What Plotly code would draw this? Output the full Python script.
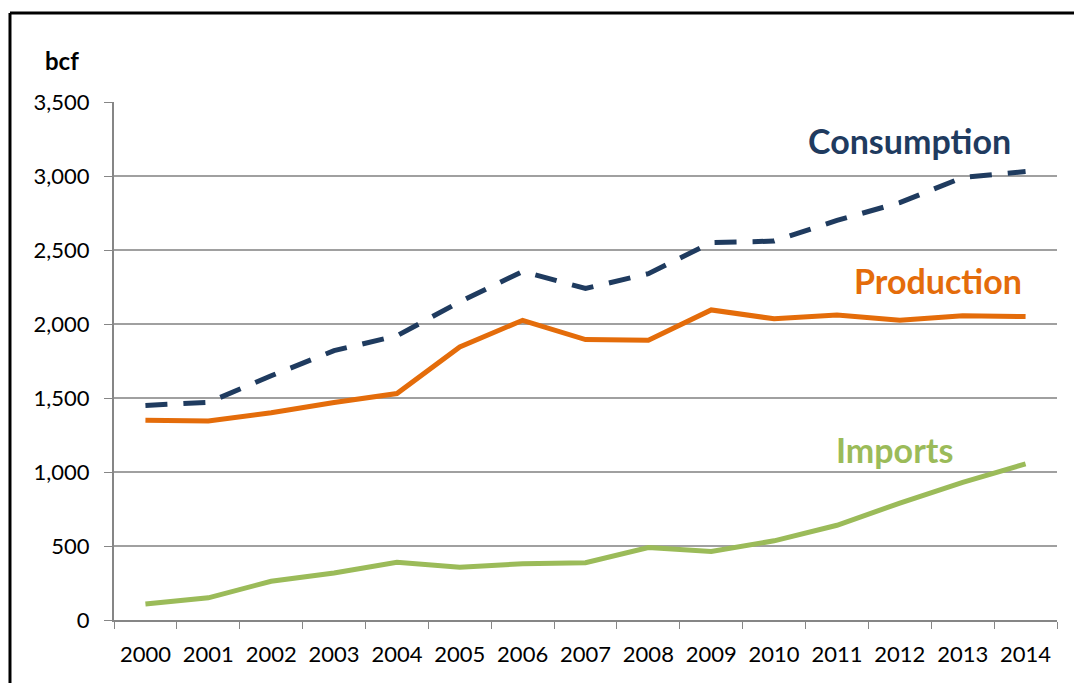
import plotly.graph_objects as go

years = [str(y) for y in range(2000, 2015)]
consumption = [1450, 1470, 1650, 1820, 1920, 2150, 2355, 2240, 2340, 2550, 2560, 2700, 2820, 2990, 3030]
production = [1350, 1345, 1400, 1470, 1530, 1845, 2025, 1895, 1890, 2095, 2035, 2060, 2025, 2055, 2050]
imports = [108, 150, 262, 318, 390, 357, 380, 387, 490, 463, 535, 640, 790, 930, 1055]

c_cons = "#1F3B5F"
c_prod = "#E46C0A"
c_imp = "#9BBB59"

fig = go.Figure()
fig.add_trace(go.Scatter(x=years, y=imports, mode="lines", line=dict(color=c_imp, width=5), name="Imports"))
fig.add_trace(go.Scatter(x=years, y=production, mode="lines", line=dict(color=c_prod, width=5), name="Production"))
fig.add_trace(go.Scatter(x=years, y=consumption, mode="lines", line=dict(color=c_cons, width=5, dash="22px,16px"), name="Consumption"))

font_fam = "Lato, 'Open Sans', sans-serif"

fig.update_layout(
    width=1074, height=683,
    margin=dict(l=114, r=17, t=102, b=63),
    paper_bgcolor="white", plot_bgcolor="white",
    showlegend=False,
    font=dict(family=font_fam, size=22, color="black"),
    xaxis=dict(
        type="category", tickson="boundaries", ticks="outside", ticklen=7, tickcolor="#868686",
        showline=True, linecolor="#868686", linewidth=2, showgrid=False,
        tickfont=dict(size=22), range=[-0.5, 14.5], ticklabelstandoff=14,
    ),
    yaxis=dict(
        range=[0, 3500], tickvals=[0, 500, 1000, 1500, 2000, 2500, 3000, 3500],
        ticktext=["0", "500", "1,000", "1,500", "2,000", "2,500", "3,000", "3,500"],
        ticks="outside", ticklen=8, tickcolor="#868686",
        showline=True, linecolor="#868686", linewidth=2,
        showgrid=True, gridcolor="#A0A0A0", gridwidth=1.5,
        zeroline=False, tickfont=dict(size=22), ticklabelstandoff=10,
    ),
)

fig.add_annotation(xref="paper", yref="paper", x=-0.055, y=1.081, text="<b>bcf</b>",
                   showarrow=False, font=dict(size=24, color="black"), xanchor="center", yanchor="middle")
fig.add_annotation(x=12.16, y=3243, text="<b>Consumption</b>", showarrow=False,
                   font=dict(size=34, color=c_cons), xanchor="center", yanchor="middle")
fig.add_annotation(x=12.61, y=2297, text="<b>Production</b>", showarrow=False,
                   font=dict(size=34, color=c_prod), xanchor="center", yanchor="middle")
fig.add_annotation(x=11.92, y=1149, text="<b>Imports</b>", showarrow=False,
                   font=dict(size=34, color=c_imp), xanchor="center", yanchor="middle")

# outer frame (only top and left edges visible)
fig.add_shape(type="line", xref="paper", yref="paper",
              x0=-0.1103, x1=1.1, y0=1.1718, y1=1.1718,
              line=dict(color="black", width=3), layer="below")
fig.add_shape(type="line", xref="paper", yref="paper",
              x0=-0.1103, x1=-0.1103, y0=-0.2, y1=1.1718,
              line=dict(color="black", width=3), layer="below")

fig.write_html("out.html",
               config={"displayModeBar": False},
               post_script="document.body.style.margin='0';document.body.style.overflow='hidden';")
